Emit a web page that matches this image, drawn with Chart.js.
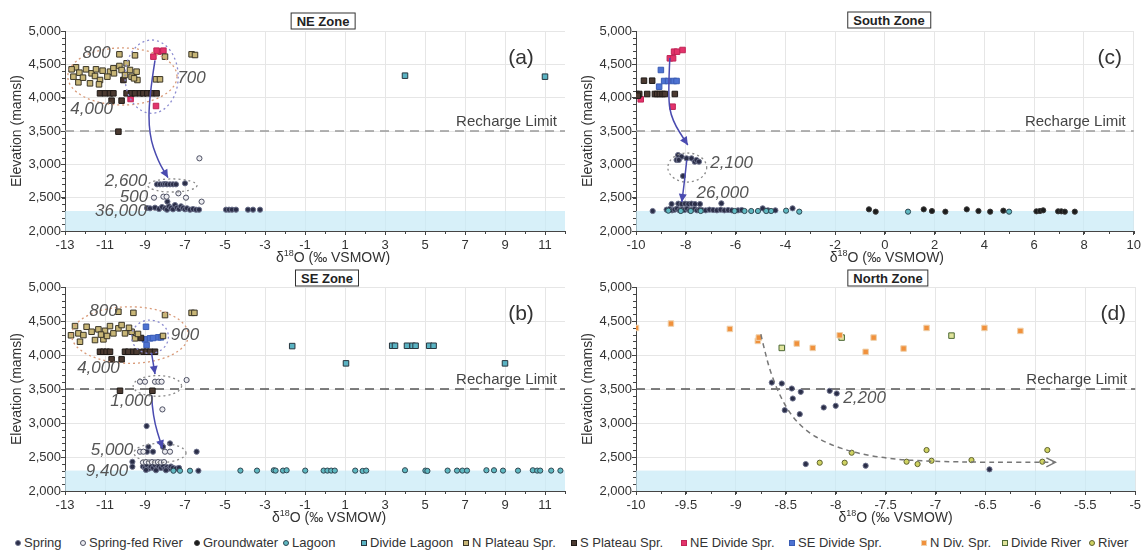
<!DOCTYPE html>
<html>
<head>
<meta charset="utf-8">
<title>Elevation vs d18O by zone</title>
<script src="https://cdn.jsdelivr.net/npm/chart.js@4.4.1/dist/chart.umd.min.js"></script>
<style>
  body { margin: 0; background: #fff; }
  #page { position: relative; width: 1144px; height: 553px; overflow: hidden; font-family: "Liberation Sans", Arial, sans-serif; }
  canvas { position: absolute; }
  .zone { position: absolute; transform: translate(-50%, -50%); border: 1px solid #333; background: #fff;
          font-weight: bold; font-size: 13px; line-height: 15px; padding: 0 5px; color: #222; white-space: nowrap; }
  .leg { position: absolute; top: 535px; font-size: 13px; line-height: 16px; color: #333; white-space: nowrap; }
  .leg i { display: inline-block; width: 6px; height: 6px; margin-right: 3px; vertical-align: 1px; box-sizing: border-box; }
</style>
</head>
<body>
<div id="page">
  <canvas id="cA" width="575" height="266" style="left:0;top:0"></canvas>
  <canvas id="cC" width="573" height="266" style="left:571px;top:0"></canvas>
  <canvas id="cB" width="575" height="270" style="left:0;top:256px"></canvas>
  <canvas id="cD" width="573" height="270" style="left:571px;top:256px"></canvas>
  <div class="zone" style="left:323px;top:21px">NE Zone</div>
  <div class="zone" style="left:889px;top:20px">South Zone</div>
  <div class="zone" style="left:327px;top:278px">SE Zone</div>
  <div class="zone" style="left:888px;top:278px">North Zone</div>
</div>
<script>
// ---- axis ticks ----
const elevTicks = [2000, 2500, 3000, 3500, 4000, 4500, 5000];
const wideTicks = [-13, -11, -9, -7, -5, -3, -1, 1, 3, 5, 7, 9, 11];
const southTicks = [-10, -8, -6, -4, -2, 0, 2, 4, 6, 8, 10];
const northTicks = [-10, -9.5, -9, -8.5, -8, -7.5, -7, -6.5, -6, -5.5, -5];
const rechargeLimit = 3500;
const lowlandTop = 2300;

// ---- (a) NE Zone : [d18O, elevation] ----
const aNPlateau = [[-10.28,4650],[-9.5,4635],[-12.45,4455],[-12.58,4315],[-12.28,4375],[-12.33,4230],[-11.95,4425],
  [-11.67,4365],[-11.5,4325],[-11.45,4425],[-11.12,4405],[-10.75,4390],[-10.58,4440],[-10.28,4475],[-10.17,4415],
  [-10.55,4365],[-9.75,4415],[-9.42,4390],[-9.67,4315],[-9.38,4265],[-11.75,4215],[-8.0,4615],[-8.45,4275],[-8.25,4275],
  [-6.67,4650],[-6.5,4640],[-11.25,4265],[-10.88,4315],[-9.92,4515],[-12.67,4425],[-12.1,4300],[-11.3,4200],[-10.0,4340],[-9.55,4290]];
const aSPlateau = [[-11.25,4065],[-11.0,4065],[-10.75,4065],[-10.58,4065],[-9.92,4065],[-9.67,4065],[-9.5,4065],[-9.25,4065],
  [-9.08,4065],[-8.88,4065],[-8.67,4065],[-8.42,4065],[-10.67,3955],[-10.17,3955],[-10.08,4265],[-10.33,3490]];
const aNEDivide = [[-8.58,4615],[-8.33,4690],[-8.08,4705],[-8.42,4705],[-9.72,3980],[-8.45,3875]];
const aDivLagoon = [[4.0,4330],[11.0,4315]];
const aSpringRiver = [[-8.55,2500],[-8.08,2515],[-7.92,2515],[-7.33,2565],[-6.95,2500],[-6.28,3090],[-6.17,2440]];
const aSpring = [[-8.4,2700],[-8.25,2700],[-8.1,2700],[-8.0,2705],[-7.9,2700],[-7.75,2700],[-7.6,2700],[-7.45,2700],[-7.0,2715],
  [-7.88,2440],[-8.9,2345],[-8.75,2340],[-8.5,2350],[-8.3,2330],[-8.15,2360],[-8.0,2340],[-7.9,2320],[-7.8,2370],[-7.7,2345],
  [-7.6,2325],[-7.5,2390],[-7.4,2350],[-7.3,2330],[-7.2,2370],[-7.1,2345],[-7.0,2325],[-6.9,2340],[-6.75,2320],[-6.6,2330],
  [-6.45,2320],[-6.3,2320],[-4.95,2320],[-4.8,2320],[-4.65,2320],[-4.45,2320],[-3.85,2320],[-3.6,2320],[-3.25,2320]];
const aRings = [[-10.13,4318,2.73,428,'orange'],[-8.67,4315,1.33,550,'blue'],[-7.63,2683,1.23,98,'gray']];
const aArrows = [[[-8.5,4560],[-8.8,4000],[-8.8,3450],[-8.35,3050],[-7.85,2800]]];
const aNotes = [['800',-11.42,4665],['700',-6.67,4290],['4,000',-11.67,3825],['2,600',-9.95,2750],['500',-9.55,2510],['36,000',-10.2,2300]];

// ---- (c) South Zone ----
const cNEDivide = [[-8.64,4590],[-8.51,4590],[-8.47,4690],[-8.35,4690],[-8.13,4715],[-9.81,3975],[-9.9,4040],[-8.53,3865]];
const cSEDivide = [[-9.0,4415],[-9.07,4165],[-8.87,4250],[-8.71,4250],[-8.48,4250],[-8.37,4250]];
const cSPlateau = [[-9.68,4255],[-9.35,4255],[-9.97,4055],[-9.87,4055],[-9.55,4055],[-9.24,4055],[-9.15,4055],[-9.04,4055],
  [-8.93,4055],[-8.84,4055],[-8.44,4055],[-9.93,4030]];
const cLagoon = [[-8.7,2305],[-8.2,2300],[-7.8,2300],[-7.4,2300],[-6.04,2300],[-5.64,2300],[-5.37,2300],[-5.1,2300],
  [-4.77,2300],[-4.57,2300],[-3.97,2305],[-3.44,2290],[0.93,2290],[4.99,2290]];
const cSpring = [[-8.31,3140],[-8.17,3115],[-8.37,3065],[-8.28,3065],[-7.97,3090],[-7.77,3090],[-7.64,3040],[-7.57,3065],
  [-7.47,3040],[-8.11,2825],[-8.57,2405],[-8.3,2410],[-8.17,2405],[-8.03,2410],[-7.9,2405],[-7.77,2410],[-7.63,2405],
  [-7.43,2405],[-6.57,2415],[-8.77,2320],[-8.65,2330],[-8.55,2310],[-8.45,2320],[-8.35,2335],[-8.25,2310],[-8.15,2325],
  [-8.05,2315],[-7.95,2335],[-7.85,2310],[-7.75,2320],[-7.65,2330],[-7.55,2310],[-7.45,2320],[-7.35,2315],[-7.2,2310],
  [-7.05,2320],[-6.9,2315],[-6.75,2310],[-6.6,2320],[-6.45,2310],[-6.3,2315],[-6.15,2310],[-5.9,2310],[-5.75,2315],
  [-4.91,2340],[-4.7,2310],[-4.4,2310],[-3.71,2340],[-9.33,2300]];
const cGroundwater = [[-0.64,2325],[-0.37,2290],[1.56,2325],[1.89,2300],[2.43,2290],[3.29,2325],[3.76,2300],[4.23,2290],
  [4.76,2305],[6.09,2295],[6.23,2300],[6.36,2310],[6.96,2295],[7.09,2295],[7.23,2290],[7.63,2290]];
const cRings = [[-7.94,2952,0.78,218,'gray']];
const cArrows = [[[-8.64,4595],[-8.72,4010],[-8.56,3665],[-7.92,3290]], [[-7.96,3065],[-8.05,2750],[-8.16,2435]]];
const cNotes = [['2,100',-6.16,3020],['26,000',-6.52,2570]];

// ---- (b) SE Zone ----
const bNPlateau = [[-10.33,4636],[-9.58,4620],[-8.0,4587],[-6.67,4620],[-6.53,4620],[-12.5,4425],[-12.33,4318],[-12.25,4195],
  [-11.92,4415],[-11.67,4342],[-11.5,4220],[-11.33,4377],[-11.0,4356],[-10.75,4425],[-10.58,4318],[-10.33,4392],[-10.17,4440],
  [-10.0,4318],[-9.67,4342],[-9.5,4245],[-12.08,4293],[-11.08,4230],[-12.7,4290],[-11.2,4300],[-10.9,4280],[-9.8,4400],
  [-9.35,4310],[-8.1,4280]];
const bSPlateau = [[-11.25,4048],[-11.08,4048],[-10.92,4048],[-10.75,4048],[-10.0,4048],[-9.83,4048],[-9.58,4048],[-9.42,4048],
  [-9.08,4048],[-8.92,4048],[-8.75,4048],[-8.5,4048],[-10.67,3936],[-10.17,3936],[-10.25,3474],[-8.63,3474],[-9.2,4250]];
const bSEDivide = [[-8.95,4415],[-9.0,4230],[-8.75,4245],[-8.33,4260],[-8.2,4260],[-8.92,4146],[-8.6,4250]];
const bDivLagoon = [[-1.64,4131],[1.05,3877],[3.36,4136],[3.5,4136],[4.1,4136],[4.38,4136],[4.53,4136],[5.21,4136],[5.43,4136],[9.0,3877]];
const bLagoon = [[-7.58,2298],[-7.25,2298],[-6.75,2298],[-4.23,2300],[-3.4,2300],[-2.56,2305],[-2.47,2300],[-2.1,2300],
  [-1.92,2305],[-0.99,2300],[-0.07,2300],[0.12,2300],[0.31,2300],[0.49,2300],[1.51,2300],[1.88,2295],[2.06,2300],[4.0,2305],
  [5.02,2300],[5.12,2295],[6.13,2300],[6.6,2300],[6.87,2300],[7.1,2300],[8.07,2305],[8.45,2305],[8.9,2300],[9.65,2300],
  [10.39,2305],[10.61,2300],[10.76,2300],[11.31,2300],[11.77,2300]];
const bSpringRiver = [[-9.25,3607],[-9.0,3607],[-8.5,3607],[-8.33,3607],[-8.17,3607],[-6.92,3632],[-8.13,3200],
  [-9.1,2420],[-8.95,2425],[-8.8,2420],[-8.65,2425],[-8.5,2420],[-8.35,2425],[-8.2,2420],[-8.05,2425],
  [-9.25,2578],[-9.08,2578],[-8.0,2578],[-7.75,2578]];
const bSpring = [[-8.92,2955],[-8.83,2651],[-8.1,2650],[-7.75,2700],[-8.9,2578],[-8.6,2578],[-6.42,2578],[-9.63,2430],
  [-9.63,2357],[-9.1,2360],[-9.0,2340],[-8.9,2380],[-8.8,2330],[-8.7,2360],[-8.6,2340],[-8.5,2380],[-8.4,2330],[-8.3,2360],
  [-8.2,2340],[-8.1,2370],[-8.0,2330],[-7.9,2350],[-7.8,2330],[-7.7,2360],[-7.6,2340],[-7.45,2330],[-7.3,2340],[-6.33,2298],
  [-8.95,2310],[-8.45,2305],[-7.95,2305]];
const bRings = [[-9.75,4293,2.92,416,'orange'],[-8.75,4268,0.92,245,'blue'],[-8.38,3545,1.21,152,'gray'],[-8.25,2560,1.3,140,'gray']];
const bArrows = [[[-8.67,4024],[-8.5,3720]], [[-8.67,3411],[-8.62,3092],[-8.13,2628]]];
const bNotes = [['800',-11.08,4636],['900',-7.0,4293],['4,000',-11.33,3804],['1,000',-9.67,3313],['5,000',-10.65,2603],['9,400',-10.9,2294]];

// ---- (d) North Zone ----
const dNDivSpr = [[-10.0,4398],[-9.65,4462],[-9.06,4383],[-8.78,4207],[-8.77,4256],[-8.39,4168],[-8.23,4104],[-7.96,4290],
  [-7.7,4046],[-7.62,4256],[-7.32,4095],[-7.09,4398],[-6.51,4398],[-6.15,4354]];
const dDivRiver = [[-8.54,4104],[-7.94,4256],[-6.84,4285]];
const dSpring = [[-8.64,3595],[-8.54,3581],[-8.44,3507],[-8.35,3458],[-8.43,3360],[-8.51,3189],[-8.36,3130],[-8.06,3473],
  [-7.99,3434],[-8.12,3228],[-8.0,3253],[-8.3,2396],[-7.7,2372],[-6.46,2318]];
const dRiver = [[-8.16,2416],[-7.91,2416],[-7.84,2563],[-7.29,2431],[-7.18,2396],[-7.09,2602],[-7.04,2445],[-6.64,2455],[-5.93,2431],[-5.88,2602]];
const dTrend = [[-8.75,4305],[-8.72,4119],[-8.66,3776],[-8.57,3434],[-8.46,3140],[-8.31,2896],[-8.09,2700],[-7.79,2553],
  [-7.42,2465],[-7.04,2436],[-6.49,2421],[-5.8,2421]];
const dNotes = [['2,200',-7.71,3360]];

// ---- marker styles ----
const styles = {
  spring:      { shape: 'circle', fill: '#2b2e48', line: '#6d728c', r: 2.6 },
  springRiver: { shape: 'circle', fill: '#ececf0', line: '#4d5063', r: 2.6 },
  groundwater: { shape: 'circle', fill: '#1c1c1c', line: '#3a3a3a', r: 2.6 },
  lagoon:      { shape: 'circle', fill: '#5fb9c2', line: '#2f4752', r: 2.6 },
  divLagoon:   { shape: 'rect',   fill: '#5ab3c3', line: '#27363f', r: 3.9 },
  nPlateau:    { shape: 'rect',   fill: '#c8b677', line: '#3a3526', r: 3.9 },
  sPlateau:    { shape: 'rect',   fill: '#4b3a31', line: '#1f1a17', r: 3.9 },
  neDivide:    { shape: 'rect',   fill: '#e3336b', line: '#c02456', r: 3.9 },
  seDivide:    { shape: 'rect',   fill: '#4d72d2', line: '#3a5cb4', r: 3.9 },
  nDivSpr:     { shape: 'rect',   fill: '#f0913c', line: '#efd2ae', r: 3.9 },
  divRiver:    { shape: 'rect',   fill: '#dfe39a', line: '#4e6a36', r: 3.9 },
  river:       { shape: 'circle', fill: '#cfd262', line: '#5e6230', r: 2.6 }
};
const ringColors = { orange: '#d99a78', blue: '#8b8bd0', gray: '#8a8a8a' };

const legendNames = ['Spring', 'Spring-fed River', 'Groundwater', 'Lagoon', 'Divide Lagoon', 'N Plateau Spr.',
  'S Plateau Spr.', 'NE Divide Spr.', 'SE Divide Spr.', 'N Div. Spr.', 'Divide River', 'River'];
const legendKeys = ['spring', 'springRiver', 'groundwater', 'lagoon', 'divLagoon', 'nPlateau',
  'sPlateau', 'neDivide', 'seDivide', 'nDivSpr', 'divRiver', 'river'];
const legendX = [18, 83, 197, 286, 364, 466, 574, 684, 792, 924, 1005, 1092];

const FONT = '"Liberation Sans", Arial, sans-serif';
Chart.defaults.font.family = FONT;
Chart.defaults.color = '#333';

function toPx(chart, p) {
  return { x: chart.scales.x.getPixelForValue(p[0]), y: chart.scales.y.getPixelForValue(p[1]) };
}

// curve through points (midpoint quadratic smoothing)
function smoothPath(ctx, pts) {
  ctx.beginPath();
  ctx.moveTo(pts[0].x, pts[0].y);
  for (let i = 1; i < pts.length - 1; i++) {
    const mx = (pts[i].x + pts[i + 1].x) / 2, my = (pts[i].y + pts[i + 1].y) / 2;
    ctx.quadraticCurveTo(pts[i].x, pts[i].y, mx, my);
  }
  const last = pts[pts.length - 1];
  ctx.lineTo(last.x, last.y);
}

function arrowHead(ctx, from, to, len, half, filled) {
  const ang = Math.atan2(to.y - from.y, to.x - from.x);
  const bx = to.x - len * Math.cos(ang), by = to.y - len * Math.sin(ang);
  const nx = -Math.sin(ang) * half, ny = Math.cos(ang) * half;
  ctx.beginPath();
  ctx.moveTo(bx + nx, by + ny);
  ctx.lineTo(to.x, to.y);
  ctx.lineTo(bx - nx, by - ny);
  if (filled) { ctx.closePath(); ctx.fill(); } else { ctx.stroke(); }
}

// extra drawing: lowland band, recharge line, minor ticks, rings, arrows, notes
function decor(p) {
  return {
    id: 'decor',
    beforeDatasetsDraw(chart) {
      const { ctx, chartArea: a, scales: { y } } = chart;
      ctx.save();
      const yb = y.getPixelForValue(lowlandTop);
      ctx.fillStyle = 'rgba(198,233,247,0.7)';
      ctx.fillRect(a.left, yb, a.right - a.left, a.bottom - yb);

      const yr = y.getPixelForValue(rechargeLimit);
      ctx.strokeStyle = p.rechargeColor;
      ctx.lineWidth = 1.5;
      ctx.setLineDash([9, 6]);
      ctx.beginPath(); ctx.moveTo(a.left, yr); ctx.lineTo(a.right, yr); ctx.stroke();
      ctx.setLineDash([]);
      ctx.fillStyle = '#444';
      ctx.font = '15px ' + FONT;
      ctx.textAlign = 'right'; ctx.textBaseline = 'bottom';
      ctx.fillText('Recharge Limit', a.right - 8, yr - 2);

      // minor ticks
      ctx.strokeStyle = '#444'; ctx.lineWidth = 1;
      ctx.beginPath();
      for (let v = 2000; v <= 5000; v += 100) {
        const yy = Math.round(y.getPixelForValue(v)) + 0.5;
        ctx.moveTo(a.left - 3, yy); ctx.lineTo(a.left, yy);
      }
      const x = chart.scales.x;
      for (let v = p.xMin; v <= p.xMax + 1e-9; v += p.xMinor) {
        const xx = Math.round(x.getPixelForValue(v)) + 0.5;
        ctx.moveTo(xx, a.bottom); ctx.lineTo(xx, a.bottom + 3);
      }
      ctx.stroke();
      ctx.restore();
    },
    afterDatasetsDraw(chart) {
      const { ctx, chartArea: a, scales: { x, y } } = chart;
      ctx.save();
      // dotted rings
      ctx.lineWidth = 1.3;
      ctx.setLineDash([2, 3]);
      (p.rings || []).forEach(([cx, cy, rx, ry, c]) => {
        const ctr = toPx(chart, [cx, cy]);
        const rxp = Math.abs(x.getPixelForValue(cx + rx) - ctr.x);
        const ryp = Math.abs(y.getPixelForValue(cy + ry) - ctr.y);
        ctx.strokeStyle = ringColors[c];
        ctx.beginPath(); ctx.ellipse(ctr.x, ctr.y, rxp, ryp, 0, 0, Math.PI * 2); ctx.stroke();
      });
      ctx.setLineDash([]);
      // flow arrows
      ctx.strokeStyle = '#4a4bb0'; ctx.fillStyle = '#4a4bb0'; ctx.lineWidth = 1.5;
      (p.arrows || []).forEach(path => {
        const pts = path.map(q => toPx(chart, q));
        smoothPath(ctx, pts); ctx.stroke();
        arrowHead(ctx, pts[pts.length - 2], pts[pts.length - 1], 8, 4, true);
      });
      // trend curve (north zone)
      if (p.trend) {
        const pts = p.trend.map(q => toPx(chart, q));
        ctx.strokeStyle = '#777'; ctx.lineWidth = 1.5; ctx.setLineDash([5, 4]);
        smoothPath(ctx, pts); ctx.stroke();
        ctx.setLineDash([]);
        arrowHead(ctx, pts[pts.length - 2], pts[pts.length - 1], 9, 4.5, false);
      }
      // numbers
      ctx.fillStyle = '#555';
      ctx.font = 'italic 17px ' + FONT;
      ctx.textAlign = 'center'; ctx.textBaseline = 'middle';
      (p.notes || []).forEach(([t, vx, vy]) => {
        const q = toPx(chart, [vx, vy]);
        ctx.fillText(t, q.x, q.y);
      });
      // panel letter
      ctx.fillStyle = '#333';
      ctx.font = '21px ' + FONT;
      ctx.fillText(p.letter, a.right + p.letterDx, a.top + 27);
      // x axis title with superscript
      const cx = (a.left + a.right) / 2 + p.titleShift, ty = a.bottom + 27;
      ctx.font = '14px ' + FONT;
      const w1 = ctx.measureText('\u03b4').width, w3 = ctx.measureText('O (\u2030 VSMOW)').width;
      ctx.font = '9px ' + FONT;
      const w2 = ctx.measureText('18').width;
      let sx = cx - (w1 + w2 + w3) / 2;
      ctx.textAlign = 'left';
      ctx.fillStyle = '#333';
      ctx.font = '14px ' + FONT;
      ctx.fillText('\u03b4', sx, ty);
      ctx.font = '9px ' + FONT;
      ctx.fillText('18', sx + w1, ty - 4);
      ctx.font = '14px ' + FONT;
      ctx.fillText('O (\u2030 VSMOW)', sx + w1 + w2, ty);
      ctx.restore();
    }
  };
}

function makePanel(p) {
  const datasets = p.series.map(([key, pts]) => ({
    label: key,
    data: pts.map(([vx, vy]) => ({ x: vx, y: vy })),
    pointStyle: styles[key].shape,
    pointRadius: styles[key].r,
    backgroundColor: styles[key].fill,
    borderColor: styles[key].line,
    borderWidth: 1
  }));
  new Chart(document.getElementById(p.id), {
    type: 'scatter',
    data: { datasets },
    options: {
      responsive: false,
      animation: false,
      events: [],
      layout: { padding: { top: 31, right: p.padRight, bottom: 0, left: 0 } },
      plugins: { legend: { display: false }, tooltip: { enabled: false } },
      scales: {
        x: {
          type: 'linear', min: p.xMin, max: p.xMax,
          afterBuildTicks: ax => { ax.ticks = p.xTicks.map(v => ({ value: v })); },
          afterFit: ax => { ax.height = 35; },
          ticks: { autoSkip: false, maxRotation: 0, padding: 3, color: '#333', font: { size: 13 }, callback: v => String(v) },
          grid: { color: '#e6e6e6', tickColor: '#444', tickLength: 4 },
          border: { color: '#444', width: 1 }
        },
        y: {
          type: 'linear', min: 2000, max: 5000,
          afterBuildTicks: ax => { ax.ticks = elevTicks.map(v => ({ value: v })); },
          afterFit: ax => { ax.width = 65; },
          ticks: { autoSkip: false, padding: 0, color: '#333', font: { size: 13 }, callback: v => v.toLocaleString('en-US') },
          grid: { color: '#e6e6e6', tickColor: '#444', tickLength: 4 },
          border: { color: '#444', width: 1 },
          title: { display: true, text: 'Elevation (mamsl)', color: '#333', font: { size: 14 }, padding: { top: 9, bottom: 0 } }
        }
      }
    },
    plugins: [decor(p)]
  });
}

makePanel({
  id: 'cA', xMin: -13, xMax: 12, xTicks: wideTicks, xMinor: 1, padRight: 10, titleShift: 18,
  letter: '(a)', letterDx: -44, rechargeColor: '#9a9a9a',
  series: [['divLagoon', aDivLagoon], ['nPlateau', aNPlateau], ['sPlateau', aSPlateau], ['neDivide', aNEDivide],
           ['springRiver', aSpringRiver], ['spring', aSpring]],
  rings: aRings, arrows: aArrows, notes: aNotes
});
makePanel({
  id: 'cC', xMin: -10, xMax: 10, xTicks: southTicks, xMinor: 1, padRight: 8, titleShift: 2,
  letter: '(c)', letterDx: -24, rechargeColor: '#9a9a9a',
  series: [['sPlateau', cSPlateau], ['seDivide', cSEDivide], ['neDivide', cNEDivide],
           ['lagoon', cLagoon], ['groundwater', cGroundwater], ['spring', cSpring]],
  rings: cRings, arrows: cArrows, notes: cNotes
});
makePanel({
  id: 'cB', xMin: -13, xMax: 12, xTicks: wideTicks, xMinor: 1, padRight: 10, titleShift: 14,
  letter: '(b)', letterDx: -44, rechargeColor: '#555',
  series: [['divLagoon', bDivLagoon], ['nPlateau', bNPlateau], ['sPlateau', bSPlateau], ['seDivide', bSEDivide],
           ['lagoon', bLagoon], ['springRiver', bSpringRiver], ['spring', bSpring]],
  rings: bRings, arrows: bArrows, notes: bNotes
});
makePanel({
  id: 'cD', xMin: -10, xMax: -5, xTicks: northTicks, xMinor: 0.25, padRight: 8, titleShift: 10,
  letter: '(d)', letterDx: -22, rechargeColor: '#555',
  series: [['nDivSpr', dNDivSpr], ['divRiver', dDivRiver], ['river', dRiver], ['spring', dSpring]],
  trend: dTrend, notes: dNotes
});

// legend row
const page = document.getElementById('page');
legendNames.forEach((name, i) => {
  const st = styles[legendKeys[i]];
  const span = document.createElement('span');
  span.className = 'leg';
  span.style.left = (legendX[i] - 3) + 'px';
  const mk = document.createElement('i');
  mk.style.background = st.fill;
  mk.style.border = '1px solid ' + st.line;
  if (st.shape === 'circle') mk.style.borderRadius = '50%';
  span.appendChild(mk);
  span.appendChild(document.createTextNode(name));
  page.appendChild(span);
});
</script>
</body>
</html>
